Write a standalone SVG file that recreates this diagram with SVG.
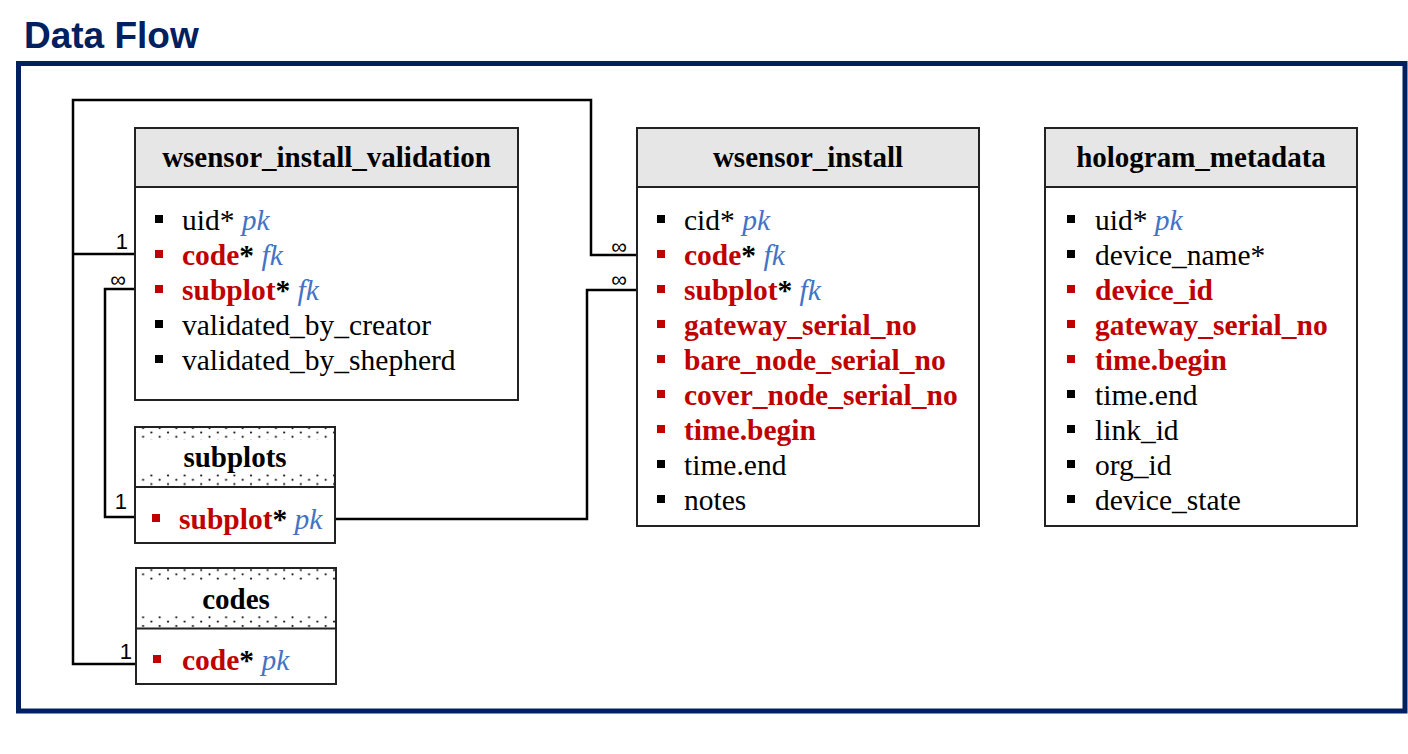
<svg xmlns="http://www.w3.org/2000/svg" width="1408" height="754" viewBox="0 0 1408 754">
<style>
.title{font-family:"Liberation Sans",Arial,sans-serif;font-weight:bold;font-size:37px;fill:#002060}
.hdr{font-family:"Liberation Serif","Times New Roman",serif;font-weight:bold;font-size:29px;fill:#000;text-anchor:middle}
.row{font-family:"Liberation Serif","Times New Roman",serif;font-size:29.5px;fill:#000}
.r{font-weight:bold;fill:#C00000}
.b{font-weight:bold}
.k{font-style:italic;fill:#4472C4}
.box{fill:#fff;stroke:#222;stroke-width:2}
.head{fill:#E6E6E6;stroke:#222;stroke-width:2}
.bk{fill:#000}
.rd{fill:#C00000}
.conn{fill:none;stroke:#000;stroke-width:2.5}
.lbl{font-family:"Liberation Sans",Arial,sans-serif;font-size:22px;fill:#000}
</style>
<defs>
<pattern id="dots" patternUnits="userSpaceOnUse" x="0" y="0" width="16.6" height="8.6">
<circle cx="2" cy="2.5" r="1.1" fill="#111"/>
<circle cx="10.3" cy="6.8" r="1.1" fill="#111"/>
</pattern>
</defs>
<rect width="1408" height="754" fill="#fff"/>
<text class="title" x="24" y="48">Data Flow</text>
<rect x="18.5" y="63.5" width="1386.5" height="647.5" fill="none" stroke="#002060" stroke-width="5"/>

<g id="connectors">
<polyline class="conn" points="136,664 73,664 73,100 591,100 591,255 637,255"/>
<polyline class="conn" points="73,254 135,254"/>
<polyline class="conn" points="135,289 105,289 105,517 135,517"/>
<polyline class="conn" points="335,519 587,519 587,290 637,290"/>
<text class="lbl" x="128" y="249" text-anchor="end">1</text>
<text class="lbl" x="118" y="287" text-anchor="middle">∞</text>
<text class="lbl" x="619" y="254" text-anchor="middle">∞</text>
<text class="lbl" x="619" y="287" text-anchor="middle">∞</text>
<text class="lbl" x="127" y="509" text-anchor="end">1</text>
<text class="lbl" x="132" y="659" text-anchor="end">1</text>
</g>

<g id="wsensor_install_validation">
<rect class="box" x="135" y="128" width="383" height="272"/>
<rect class="head" x="135" y="128" width="383" height="59"/>
<text class="hdr" x="326.5" y="167">wsensor_install_validation</text>
<rect class="bk" x="155" y="215" width="8" height="8"/>
<text class="row" x="182" y="230">uid* <tspan class="k">pk</tspan></text>
<rect class="rd" x="155" y="250" width="8" height="8"/>
<text class="row" x="182" y="265"><tspan class="r">code</tspan><tspan class="b">*</tspan> <tspan class="k">fk</tspan></text>
<rect class="rd" x="155" y="285" width="8" height="8"/>
<text class="row" x="182" y="300"><tspan class="r">subplot</tspan><tspan class="b">*</tspan> <tspan class="k">fk</tspan></text>
<rect class="bk" x="155" y="320" width="8" height="8"/>
<text class="row" x="182" y="335">validated_by_creator</text>
<rect class="bk" x="155" y="355" width="8" height="8"/>
<text class="row" x="182" y="370">validated_by_shepherd</text>
</g>

<g id="subplots">
<rect class="box" x="135" y="427" width="200" height="116"/>
<rect x="136" y="428" width="198" height="58" fill="url(#dots)"/>
<rect x="136" y="440" width="198" height="33" fill="#fff"/>
<line x1="135" y1="487" x2="335" y2="487" stroke="#222" stroke-width="2"/>
<text class="hdr" x="235" y="467">subplots</text>
<rect class="rd" x="152" y="514" width="8" height="8"/>
<text class="row" x="179" y="529"><tspan class="r">subplot</tspan><tspan class="b">*</tspan> <tspan class="k">pk</tspan></text>
</g>

<g id="codes">
<rect class="box" x="136" y="568" width="200" height="116"/>
<rect x="137" y="569" width="198" height="59" fill="url(#dots)"/>
<rect x="137" y="581" width="198" height="34" fill="#fff"/>
<line x1="136" y1="628.5" x2="336" y2="628.5" stroke="#222" stroke-width="2"/>
<text class="hdr" x="236" y="609">codes</text>
<rect class="rd" x="153" y="655" width="8" height="8"/>
<text class="row" x="182" y="670"><tspan class="r">code</tspan><tspan class="b">*</tspan> <tspan class="k">pk</tspan></text>
</g>

<g id="wsensor_install">
<rect class="box" x="637" y="128" width="342" height="398"/>
<rect class="head" x="637" y="128" width="342" height="59"/>
<text class="hdr" x="808" y="167">wsensor_install</text>
<rect class="bk" x="657" y="215" width="8" height="8"/>
<text class="row" x="684" y="230">cid* <tspan class="k">pk</tspan></text>
<rect class="rd" x="657" y="250" width="8" height="8"/>
<text class="row" x="684" y="265"><tspan class="r">code</tspan><tspan class="b">*</tspan> <tspan class="k">fk</tspan></text>
<rect class="rd" x="657" y="285" width="8" height="8"/>
<text class="row" x="684" y="300"><tspan class="r">subplot</tspan><tspan class="b">*</tspan> <tspan class="k">fk</tspan></text>
<rect class="rd" x="657" y="320" width="8" height="8"/>
<text class="row r" x="684" y="335">gateway_serial_no</text>
<rect class="rd" x="657" y="355" width="8" height="8"/>
<text class="row r" x="684" y="370">bare_node_serial_no</text>
<rect class="rd" x="657" y="390" width="8" height="8"/>
<text class="row r" x="684" y="405">cover_node_serial_no</text>
<rect class="rd" x="657" y="425" width="8" height="8"/>
<text class="row r" x="684" y="440">time.begin</text>
<rect class="bk" x="657" y="460" width="8" height="8"/>
<text class="row" x="684" y="475">time.end</text>
<rect class="bk" x="657" y="495" width="8" height="8"/>
<text class="row" x="684" y="510">notes</text>
</g>

<g id="hologram_metadata">
<rect class="box" x="1045" y="128" width="312" height="398"/>
<rect class="head" x="1045" y="128" width="312" height="59"/>
<text class="hdr" x="1201" y="167">hologram_metadata</text>
<rect class="bk" x="1067" y="215" width="8" height="8"/>
<text class="row" x="1095" y="230">uid* <tspan class="k">pk</tspan></text>
<rect class="bk" x="1067" y="250" width="8" height="8"/>
<text class="row" x="1095" y="265">device_name*</text>
<rect class="rd" x="1067" y="285" width="8" height="8"/>
<text class="row r" x="1095" y="300">device_id</text>
<rect class="rd" x="1067" y="320" width="8" height="8"/>
<text class="row r" x="1095" y="335">gateway_serial_no</text>
<rect class="rd" x="1067" y="355" width="8" height="8"/>
<text class="row r" x="1095" y="370">time.begin</text>
<rect class="bk" x="1067" y="390" width="8" height="8"/>
<text class="row" x="1095" y="405">time.end</text>
<rect class="bk" x="1067" y="425" width="8" height="8"/>
<text class="row" x="1095" y="440">link_id</text>
<rect class="bk" x="1067" y="460" width="8" height="8"/>
<text class="row" x="1095" y="475">org_id</text>
<rect class="bk" x="1067" y="495" width="8" height="8"/>
<text class="row" x="1095" y="510">device_state</text>
</g>
</svg>
